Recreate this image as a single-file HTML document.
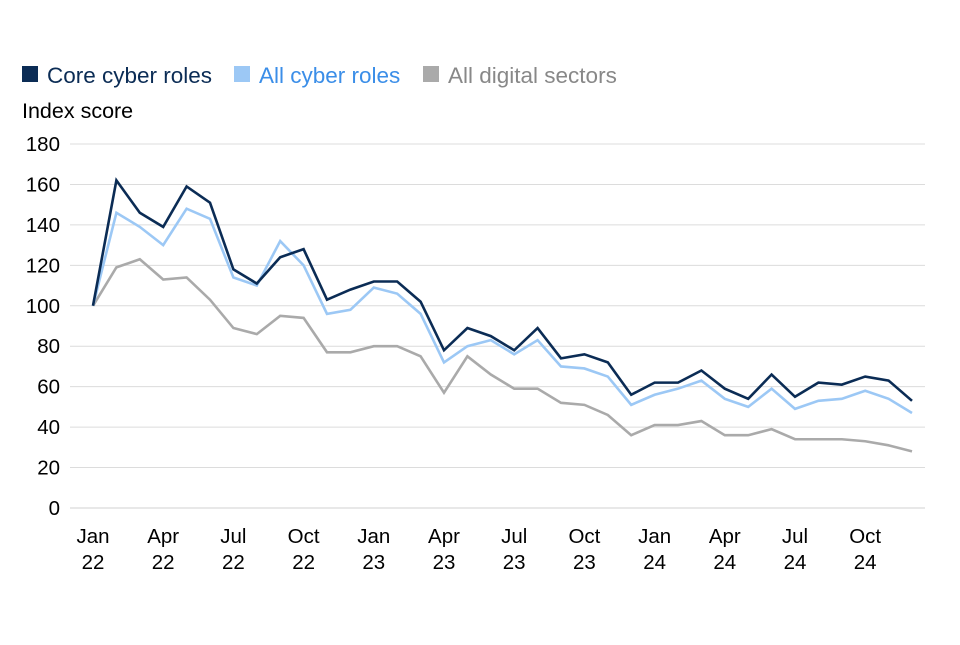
<!DOCTYPE html>
<html><head><meta charset="utf-8"><style>
body{margin:0;background:#fff;font-family:"Liberation Sans",Arial,sans-serif}
</style></head><body>
<svg id="chart" width="960" height="640" xmlns="http://www.w3.org/2000/svg" font-family="Liberation Sans, Arial, sans-serif">
<g>
<g><rect x="22" y="66" width="16" height="16" fill="#0b2c55"/><text x="47" y="83" font-size="22.5" fill="#0b2c55">Core cyber roles</text></g>
<g><rect x="234" y="66" width="16" height="16" fill="#9cc8f5"/><text x="259" y="83" font-size="22.5" fill="#3b8ee8">All cyber roles</text></g>
<g><rect x="423" y="66" width="16" height="16" fill="#aaaaaa"/><text x="448" y="83" font-size="22.5" fill="#888">All digital sectors</text></g>
</g>
<text x="22" y="118" font-size="21.5" fill="#000">Index score</text>
<g id="grid"></g><g id="yt"></g><g id="xt"></g><g id="series"></g>
</svg>
<script>
const core=[100,162,146,139,159,151,118,111,124,128,103,108,112,112,102,78,89,85,78,89,74,76,72,56,62,62,68,59,54,66,55,62,61,65,63,53];
const allCyber=[100,146,139,130,148,143,114,110,132,120,96,98,109,106,96,72,80,83,76,83,70,69,65,51,56,59,63,54,50,59,49,53,54,58,54,47];
const digital=[100,119,123,113,114,103,89,86,95,94,77,77,80,80,75,57,75,66,59,59,52,51,46,36,41,41,43,36,36,39,34,34,34,33,31,28];
const yTicks=[0,20,40,60,80,100,120,140,160,180];
const xLabels=[["Jan","22"],["Apr","22"],["Jul","22"],["Oct","22"],["Jan","23"],["Apr","23"],["Jul","23"],["Oct","23"],["Jan","24"],["Apr","24"],["Jul","24"],["Oct","24"]];
const NS="http://www.w3.org/2000/svg";
const x=i=>93+i*(912-93)/35;
const y=v=>508-v*(508-144)/180;
function mk(t,a,p){const e=document.createElementNS(NS,t);for(const k in a)e.setAttribute(k,a[k]);p.appendChild(e);return e;}
const grid=document.getElementById('grid'),yt=document.getElementById('yt'),xt=document.getElementById('xt'),ser=document.getElementById('series');
yTicks.forEach(v=>{
 const l=mk('line',{x1:70,x2:925,y1:y(v),y2:y(v),stroke:v===0?'#d0d0d0':'#dcdcdc','stroke-width':1},grid);
 
 
 const t=mk('text',{x:60,y:y(v)+7,'font-size':20.5,'text-anchor':'end',fill:'#000'},yt);
 t.textContent=v;
 
 
});
xLabels.forEach((lb,k)=>{
 const t=mk('text',{x:x(k*3),y:543,'font-size':20.5,'text-anchor':'middle',fill:'#000'},xt);
 mk('tspan',{x:x(k*3),dy:0},t).textContent=lb[0];
 mk('tspan',{x:x(k*3),dy:26},t).textContent=lb[1];
 
 
});
[[digital,'#aaaaaa','series-all-digital'],[allCyber,'#9cc8f5','series-all-cyber'],[core,'#0b2c55','series-core-cyber']].forEach(([d,c,n])=>{
 const p=mk('polyline',{points:d.map((v,i)=>x(i)+','+y(v)).join(' '),fill:'none',stroke:c,'stroke-width':2.6,'stroke-linejoin':'miter'},ser);
 
 
});
</script>
</body></html>
